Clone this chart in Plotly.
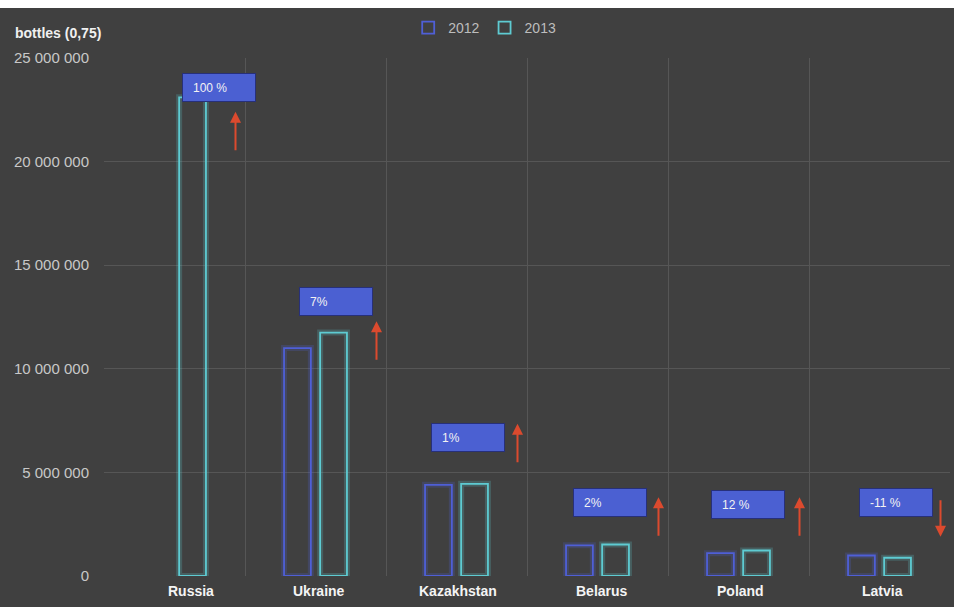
import plotly.graph_objects as go

# Shipments by country, bottles of 0.75 l
countries = ["Russia", "Ukraine", "Kazakhstan", "Belarus", "Poland", "Latvia"]
years = ["2012", "2013"]
bottles_2012 = [None, 11000000, 4400000, 1480000, 1100000, 990000]
bottles_2013 = [23100000, 11750000, 4450000, 1520000, 1230000, 880000]
change_labels = ["100 %", "7%", "1%", "2%", "12 %", "-11 %"]
y_ticks = [0, 5000000, 10000000, 15000000, 20000000, 25000000]

# Placement of the change callouts (box centre height, box x offset in px, arrow tip height)
box_y = [23.6e6, 13.25e6, 6.7e6, 3.55e6, 3.45e6, 3.55e6]
box_dx = [44, 20, 11, 12, 9, 16]
arrow_tip = [22.4e6, 12.3e6, 7.35e6, 3.8e6, 3.8e6, 1.9e6]
# horizontal nudge of each category name, px
name_dx = [16, 3, 1, 4, 2, 3]

BG = "#404040"
GRID = "#565656"
C2012 = "#4f5fd6"
C2013 = "#5ecbd2"
BOX = "#4b60d2"
ARROW = "#dc4a2e"
FONT = "Liberation Sans, Arial, sans-serif"

BAR_W = 0.19
offsets = {"2012": -0.223, "2013": 0.033}
colors = {"2012": C2012, "2013": C2013}
glows = {"2012": "rgba(79,95,214,0.22)", "2013": "rgba(94,203,210,0.22)"}
series = {"2012": bottles_2012, "2013": bottles_2013}

fig = go.Figure()

# soft halo under each outlined bar
for yr in years:
    fig.add_trace(go.Bar(
        x=countries, y=series[yr], width=BAR_W, offset=offsets[yr],
        marker=dict(color="rgba(0,0,0,0)", line=dict(color=glows[yr], width=6)),
        showlegend=False, hoverinfo="skip",
    ))

for yr in years:
    fig.add_trace(go.Bar(
        x=countries, y=series[yr], name=yr, width=BAR_W, offset=offsets[yr],
        marker=dict(color="rgba(0,0,0,0)", line=dict(color=colors[yr], width=1.8)),
    ))

annotations = []
for i, c in enumerate(countries):
    annotations.append(dict(
        x=c, y=box_y[i], xref="x", yref="y", xshift=box_dx[i],
        text="\u00a0\u00a0\u00a0" + change_labels[i], showarrow=False,
        align="left", width=72, height=27, xanchor="center", yanchor="middle",
        bgcolor=BOX, bordercolor="#27307a", borderwidth=1, borderpad=0,
        font=dict(family=FONT, size=12, color="#f2f2f2"),
    ))
    v12, v13 = bottles_2012[i], bottles_2013[i]
    going_down = v12 is not None and v13 < v12
    annotations.append(dict(
        x=c, y=arrow_tip[i], xref="x", yref="y", xshift=61,
        ax=0, ay=-38 if going_down else 40, text="", showarrow=True,
        arrowhead=2, arrowsize=1.1, arrowwidth=2, arrowcolor=ARROW,
    ))
    annotations.append(dict(
        x=c, y=0, xref="x", yref="paper", xshift=name_dx[i], yshift=-15,
        text=f"<b>{c}</b>", showarrow=False, xanchor="center", yanchor="middle",
        font=dict(family=FONT, size=14, color="#f4f4f4"),
    ))

annotations.append(dict(
    text="<b>bottles (0,75)</b>", xref="paper", yref="paper",
    x=-0.108, y=1.048, xanchor="left", yanchor="middle", showarrow=False,
    font=dict(family=FONT, size=14, color="#f0f0f0"),
))

fig.update_layout(
    width=954, height=607,
    margin=dict(l=104, r=4, t=58, b=31),
    paper_bgcolor=BG, plot_bgcolor=BG,
    barmode="overlay",
    font=dict(family=FONT, color="#c8c8c8"),
    showlegend=True,
    legend=dict(
        orientation="h", x=0.45, xanchor="center", y=1.058, yanchor="middle",
        font=dict(family=FONT, size=14, color="#bdbdbd"),
        bgcolor="rgba(0,0,0,0)", itemwidth=30,
    ),
    annotations=annotations,
    shapes=[dict(
        type="rect", xref="paper", yref="paper", x0=-0.2, x1=1.1,
        y0=1.0966, y1=1.25, fillcolor="white", line=dict(width=0), layer="above",
    )],
)

fig.update_xaxes(
    type="category", range=[-0.5, 5.5], tickson="boundaries",
    showgrid=True, gridcolor=GRID, gridwidth=1, ticks="", showline=False,
    zeroline=False, showticklabels=False,
)
fig.update_yaxes(
    range=[0, 25000000], tickvals=y_ticks,
    ticktext=[f"{v:,}".replace(",", " ") for v in y_ticks],
    showgrid=True, gridcolor=GRID, gridwidth=1, zeroline=False, ticks="",
    ticklabelstandoff=14,
    tickfont=dict(family=FONT, size=15, color="#c8c8c8"),
)

fig.write_html("out.html")
